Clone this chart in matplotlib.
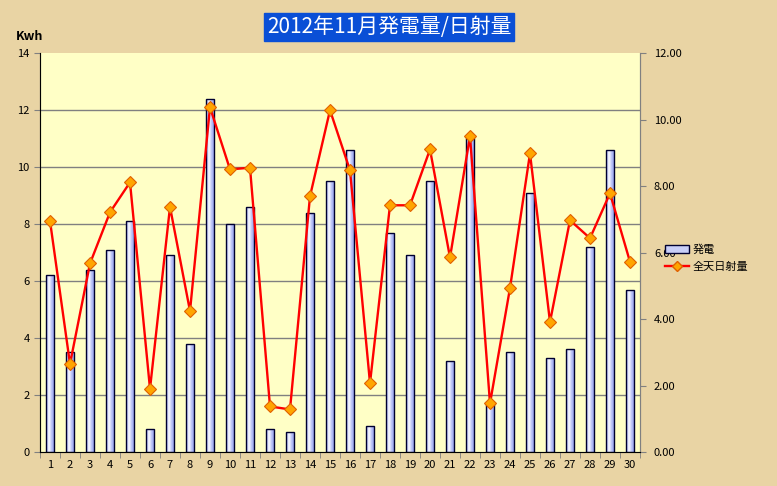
import matplotlib
matplotlib.use('Agg')
import numpy as np
import matplotlib.pyplot as plt
from matplotlib.ticker import MultipleLocator, FormatStrFormatter
from matplotlib.colors import LinearSegmentedColormap
from matplotlib.lines import Line2D
from matplotlib.patches import Patch

plt.rcParams['font.family'] = ['Noto Sans CJK JP', 'DejaVu Sans']

days = list(range(1, 31))
# daily generation (kWh), left axis
generation = [6.2, 3.5, 6.4, 7.1, 8.1, 0.8, 6.9, 3.8, 12.4, 8.0,
              8.6, 0.8, 0.7, 8.4, 9.5, 10.6, 0.9, 7.7, 6.9, 9.5,
              3.2, 11.0, 1.7, 3.5, 9.1, 3.3, 3.6, 7.2, 10.6, 5.7]
# daily insolation, right axis
insolation = [6.95, 2.65, 5.67, 7.21, 8.11, 1.90, 7.37, 4.24, 10.37, 8.50,
              8.55, 1.37, 1.28, 7.69, 10.28, 8.47, 2.07, 7.42, 7.42, 9.10,
              5.85, 9.50, 1.46, 4.93, 8.98, 3.91, 6.97, 6.43, 7.78, 5.72]

title = '2012年11月発電量/日射量'
bar_label = '発電'
line_label = '全天日射量'

fig = plt.figure(figsize=(7.77, 4.86), dpi=100)
fig.patch.set_facecolor('#e9d4a4')

ax = fig.add_axes([40 / 777, 1 - 452 / 486, 600 / 777, 399 / 486])
ax.set_facecolor('#ffffc6')

bar_w = 0.42
bars = ax.bar(days, generation, width=bar_w, color='none', edgecolor='#000030',
              linewidth=1.0, zorder=4)

# horizontal gradient inside each bar (blue edges, white middle)
grad_cmap = LinearSegmentedColormap.from_list('bar', ['#8f9cf0', '#ffffff', '#b4bdf6', '#8f9cf0'])
grad = np.linspace(0, 1, 64).reshape(1, -1)
for b in bars:
    x0 = b.get_x()
    im = ax.imshow(grad, cmap=grad_cmap, aspect='auto', zorder=3,
                   extent=[x0, x0 + bar_w, 0, b.get_height()], interpolation='bilinear')
    im.set_clip_path(b)

ax.set_xlim(0.5, 30.5)
ax.set_ylim(0, 14)
ax.yaxis.set_major_locator(MultipleLocator(2))
# gridlines at every major tick except the top one
for g in range(2, 14, 2):
    ax.axhline(g, color='#808080', linewidth=1.0, zorder=1)
ax.set_xticks(days)
ax.set_xticks([d + 0.5 for d in range(0, 31)], minor=True)
ax.tick_params(axis='x', which='major', length=0, labelsize=8, pad=6)
ax.tick_params(axis='x', which='minor', length=4, color='#808080')
ax.tick_params(axis='y', labelsize=8, length=4, color='#808080')

ax.spines['top'].set_visible(False)
for s in ['left', 'right', 'bottom']:
    ax.spines[s].set_color('#808080')

ax2 = ax.twinx()
ax2.plot(days, insolation, color='#ff0000', linewidth=1.7, marker='D',
         markersize=6, markerfacecolor='#ffa500', markeredgecolor='#e06000',
         markeredgewidth=0.8, zorder=5)
ax2.set_ylim(0, 12)
ax2.yaxis.set_major_locator(MultipleLocator(2))
ax2.yaxis.set_major_formatter(FormatStrFormatter('%.2f'))
ax2.tick_params(axis='y', labelsize=8, length=4, color='#808080', pad=6)
ax2.spines['top'].set_visible(False)
ax2.spines['right'].set_color('#808080')

fig.text(30 / 777, 1 - 37 / 486, 'Kwh', fontsize=9, fontweight='bold',
         ha='center', va='center')

fig.text(389 / 777, 1 - 27 / 486, title, fontsize=15, color='white',
         ha='center', va='center',
         bbox=dict(boxstyle='square,pad=0.15', facecolor='#0a4fd6',
                   edgecolor='#0a4fd6'))

handles = [Patch(facecolor='#c9cff8', edgecolor='#000030', linewidth=1.0),
           Line2D([0], [0], color='#ff0000', linewidth=1.7, marker='D',
                  markersize=5, markerfacecolor='#ffa500',
                  markeredgecolor='#e06000')]
fig.legend(handles, [bar_label, line_label], loc='center left',
           bbox_to_anchor=(655 / 777, 1 - 258 / 486), frameon=False,
           fontsize=8, handlelength=2.2, handletextpad=0.3, labelspacing=0.6)

fig.savefig('out.png', dpi=100, facecolor=fig.get_facecolor())
